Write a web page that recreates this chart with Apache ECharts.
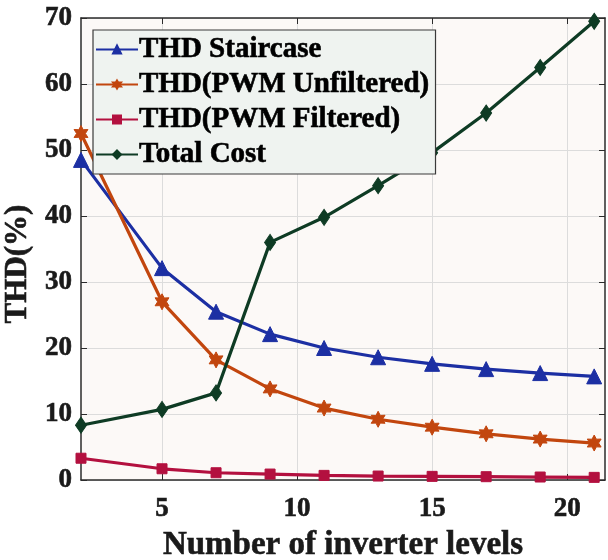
<!DOCTYPE html>
<html>
<head>
<meta charset="utf-8">
<script src="https://cdn.jsdelivr.net/npm/echarts@6/dist/echarts.min.js"></script>
<style>
  html, body { margin: 0; padding: 0; background: #ffffff; }
  #chart { width: 608px; height: 560px; }
</style>
</head>
<body>
<div id="chart"></div>
<script>
// Inverter levels on the x axis
const levels = [2, 5, 7, 9, 11, 13, 15, 17, 19, 21];

// THD (%) and cost per level count
const thdStaircase   = [48.5, 32.1, 25.5, 22.1, 20.0, 18.6, 17.6, 16.8, 16.2, 15.7];
const thdUnfiltered  = [52.5, 27.0, 18.2, 13.8, 10.9, 9.2, 8.0, 7.0, 6.2, 5.6];
const thdFiltered    = [3.3, 1.7, 1.1, 0.9, 0.7, 0.6, 0.55, 0.5, 0.45, 0.4];
const totalCost      = [8.3, 10.7, 13.2, 36.0, 39.8, 44.6, 49.6, 55.6, 62.5, 69.5];

const seriesNames = ['THD Staircase', 'THD(PWM Unfiltered)', 'THD(PWM Filtered)', 'Total Cost'];
const xTickValues = [5, 10, 15, 20];

const FONT = '"Liberation Serif", "Times New Roman", serif';
const AXIS_COLOR = '#2b2b2b';
const GRID_COLOR = '#dcdcdc';
const TEXT_COLOR = '#1a1a1a';

// six-pointed star marker
const hexagram = 'path://M100,0 L127.5,52.4 L186.6,50 L155,100 L186.6,150 L127.5,147.6 L100,200 L72.5,147.6 L13.4,150 L45,100 L13.4,50 L72.5,52.4 Z';

function pairs(ys) {
  return levels.map((x, i) => [x, ys[i]]);
}

function lineSeries(name, ys, color, symbol, size) {
  return {
    name: name,
    type: 'line',
    data: pairs(ys),
    symbol: symbol,
    symbolSize: size,
    symbolKeepAspect: true,
    showAllSymbol: true,
    lineStyle: { color: color, width: 3.2 },
    itemStyle: { color: color, borderColor: color, borderWidth: 1 },
    emphasis: { disabled: true },
    animation: false,
    z: 3
  };
}

// heavier bold text, like the print font
function boldText(size, color) {
  return {
    fontFamily: FONT, fontWeight: 'bold', fontSize: size, color: color,
    textBorderColor: color, textBorderWidth: 0.6
  };
}

const chart = echarts.init(document.getElementById('chart'), null, { renderer: 'canvas' });

const option = {
  backgroundColor: '#ffffff',
  animation: false,
  grid: {
    left: 81, right: 3, top: 18, bottom: 80,
    outerBoundsMode: 'none',
    containLabel: false,
    show: true,
    backgroundColor: '#fcf9f7',
    borderWidth: 0
  },
  legend: {
    orient: 'vertical',
    left: 93,
    top: 30,
    padding: [4, 6, 4, 2],
    itemWidth: 42,
    itemHeight: 10,
    itemGap: 4,
    backgroundColor: '#eff3f0',
    borderColor: '#3a3a3a',
    borderWidth: 1.2,
    borderRadius: 0,
    data: seriesNames,
    textStyle: Object.assign(boldText(29, '#000000'), {
      lineHeight: 31,
      padding: [0, 0, 0, -4]
    }),
    selectedMode: false
  },
  xAxis: [
    {
      type: 'value',
      min: 2,
      max: 21.4,
      name: 'Number of inverter levels',
      nameLocation: 'middle',
      nameGap: 39,
      nameTextStyle: boldText(33, TEXT_COLOR),
      axisLine: { show: true, onZero: false, lineStyle: { color: AXIS_COLOR, width: 1.5 } },
      axisTick: { show: true, inside: true, length: 6, customValues: xTickValues, lineStyle: { color: AXIS_COLOR } },
      axisLabel: Object.assign(boldText(27, TEXT_COLOR), {
        customValues: xTickValues,
        margin: 16
      }),
      splitLine: { show: true, lineStyle: { color: GRID_COLOR, width: 1 } }
    },
    {
      type: 'value',
      position: 'top',
      min: 2,
      max: 21.4,
      axisLine: { show: true, onZero: false, lineStyle: { color: AXIS_COLOR, width: 1.5 } },
      axisTick: { show: true, inside: true, length: 6, customValues: xTickValues, lineStyle: { color: AXIS_COLOR } },
      axisLabel: { show: false },
      splitLine: { show: false }
    }
  ],
  yAxis: [
    {
      type: 'value',
      min: 0,
      max: 70,
      interval: 10,
      name: 'THD(%)',
      nameLocation: 'middle',
      nameGap: 37,
      nameTextStyle: Object.assign(boldText(31, TEXT_COLOR), {
        padding: [0, 30, 0, 0]
      }),
      axisLine: { show: true, lineStyle: { color: AXIS_COLOR, width: 1.5 } },
      axisTick: { show: true, inside: true, length: 6, lineStyle: { color: AXIS_COLOR } },
      axisLabel: Object.assign(boldText(27, TEXT_COLOR), { margin: 9 }),
      splitLine: { show: true, lineStyle: { color: GRID_COLOR, width: 1 } }
    },
    {
      type: 'value',
      position: 'right',
      min: 0,
      max: 70,
      interval: 10,
      axisLine: { show: true, lineStyle: { color: AXIS_COLOR, width: 1.5 } },
      axisTick: { show: true, inside: true, length: 6, lineStyle: { color: AXIS_COLOR } },
      axisLabel: { show: false },
      splitLine: { show: false }
    }
  ],
  series: [
    lineSeries(seriesNames[0], thdStaircase, '#1c2fa3', 'triangle', 15),
    lineSeries(seriesNames[1], thdUnfiltered, '#c2460e', hexagram, 16),
    lineSeries(seriesNames[2], thdFiltered, '#b3103f', 'rect', 10),
    lineSeries(seriesNames[3], totalCost, '#0e3b24', 'diamond', [11, 16])
  ]
};

chart.setOption(option);
</script>
</body>
</html>
